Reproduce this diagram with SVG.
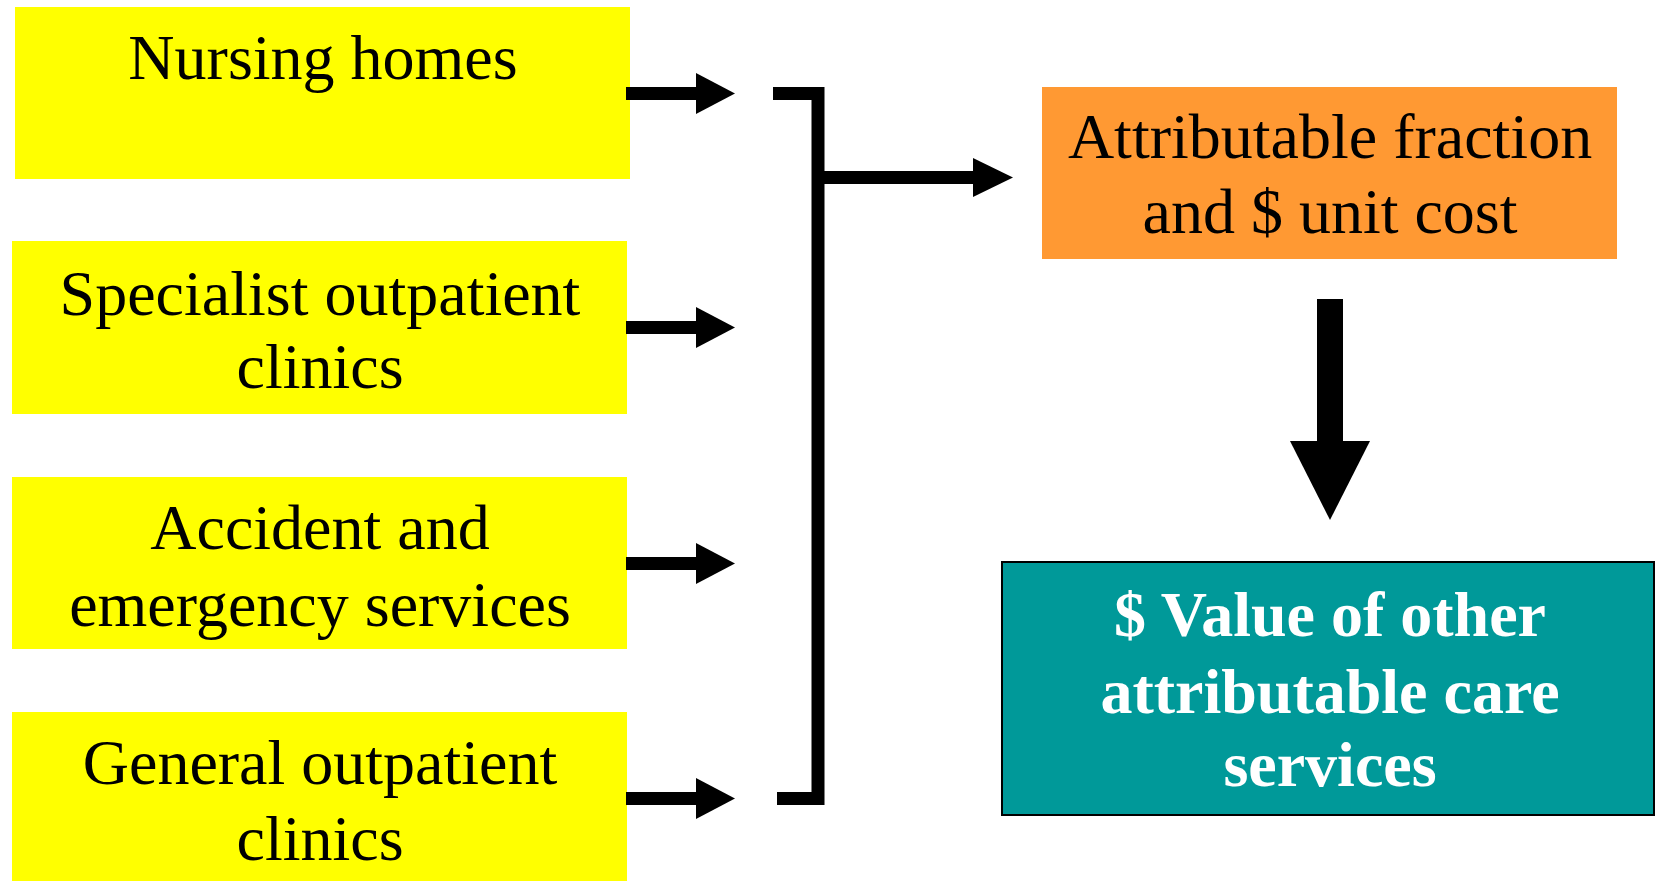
<svg xmlns="http://www.w3.org/2000/svg" width="1655" height="881" viewBox="0 0 1655 881">
<style>
.src{fill:#FFFF00}
.t{font-family:"Liberation Serif","Times New Roman",serif;font-size:64px;fill:#000;text-anchor:middle}
.tb{font-family:"Liberation Serif","Times New Roman",serif;font-size:64px;font-weight:bold;fill:#fff;text-anchor:middle}
.ln{stroke:#000;stroke-width:13;fill:none}
</style>
<rect width="1655" height="881" fill="#fff"/>
<g id="node-nursing">
  <rect class="src" x="15" y="7" width="615" height="172"/>
  <text class="t" x="323" y="79">Nursing homes</text>
</g>
<g id="node-specialist">
  <rect class="src" x="12" y="241" width="615" height="173"/>
  <text class="t" x="320" y="315">Specialist outpatient</text>
  <text class="t" x="320" y="388">clinics</text>
</g>
<g id="node-ae">
  <rect class="src" x="12" y="477" width="615" height="172"/>
  <text class="t" x="320" y="549">Accident and</text>
  <text class="t" x="320" y="626">emergency services</text>
</g>
<g id="node-general">
  <rect class="src" x="12" y="712" width="615" height="169"/>
  <text class="t" x="320" y="784">General outpatient</text>
  <text class="t" x="320" y="860">clinics</text>
</g>
<g id="node-fraction">
  <rect x="1042" y="87" width="575" height="172" fill="#FF9933"/>
  <text class="t" x="1330" y="158">Attributable fraction</text>
  <text class="t" x="1330" y="233">and $ unit cost</text>
</g>
<g id="node-value">
  <rect x="1002" y="562" width="652" height="253" fill="#009999" stroke="#000" stroke-width="2"/>
  <text class="tb" x="1330" y="636">$ Value of other</text>
  <text class="tb" x="1330" y="713">attributable care</text>
  <text class="tb" x="1330" y="786">services</text>
</g>
<g id="connectors">
  <g id="arrow-nursing"><rect x="626" y="87" width="72" height="13"/><polygon points="696,73 735,93.5 696,114"/></g>
  <g id="arrow-specialist"><rect x="626" y="321" width="72" height="13"/><polygon points="696,307 735,327.5 696,348"/></g>
  <g id="arrow-ae"><rect x="626" y="557" width="72" height="13"/><polygon points="696,543 735,563.5 696,584"/></g>
  <g id="arrow-general"><rect x="626" y="792" width="72" height="13"/><polygon points="696,778 735,798.5 696,819"/></g>
  <path class="ln" d="M773,93.5 H818 V798.5 H777" stroke-linejoin="miter"/>
  <rect x="824" y="171" width="151" height="13"/>
  <polygon points="973,158 1013,177.5 973,197"/>
  <rect x="1317" y="299" width="26" height="143"/>
  <polygon points="1290,441 1370,441 1330,520"/>
</g>
</svg>
